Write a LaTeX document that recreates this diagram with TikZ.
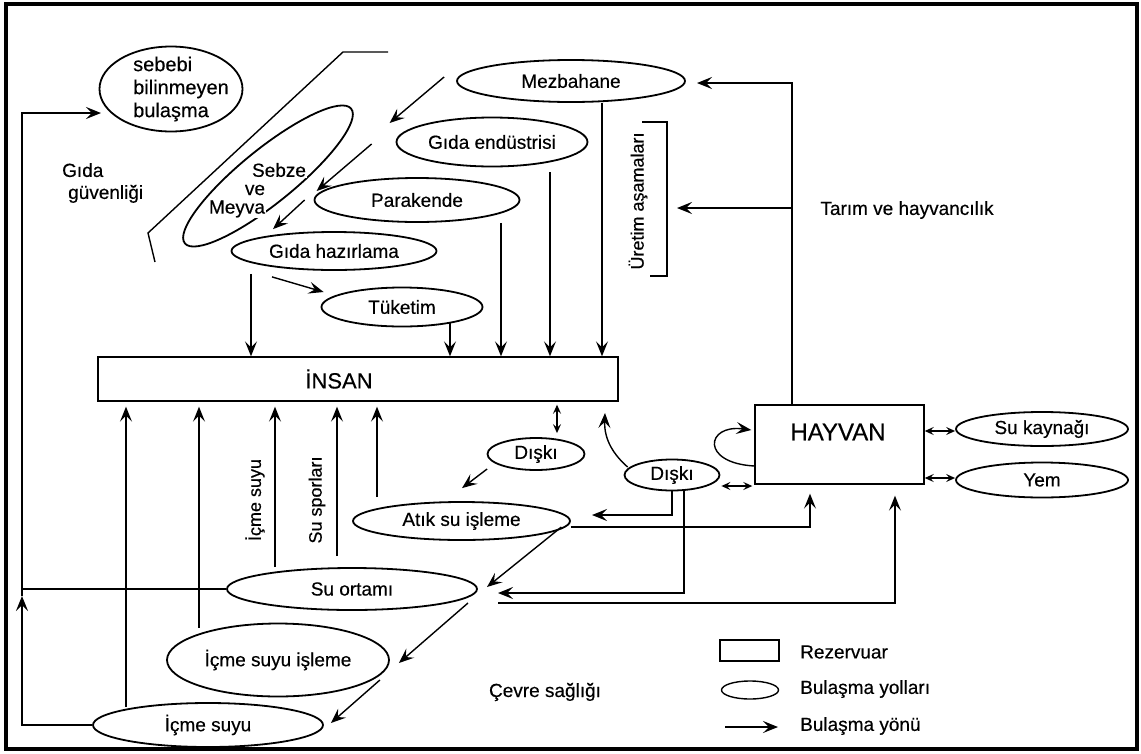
\documentclass[tikz,border=0pt]{standalone}
\usepackage{fontspec}
\setmainfont{Liberation Sans}[FakeBold=0.4]
\usetikzlibrary{shapes.geometric,arrows.meta}
\begin{document}
\begin{tikzpicture}[x=1pt,y=-1pt,
  every node/.style={font=\fontsize{19}{23}\selectfont, inner sep=0pt},
  ell/.style={ellipse, draw, line width=1.8pt, inner sep=0pt},
  con/.style={line width=1.4pt},
  arr/.style={con, arrows={-Stealth[length=15pt,width=12pt,inset=6pt]}},
  dbl/.style={con, arrows={Stealth[length=9pt,width=8pt,inset=3.5pt]-Stealth[length=9pt,width=8pt,inset=3.5pt]}},
  vlbl/.style={rotate=90, font=\fontsize{18}{20}\selectfont},
  brk/.style={fill=white, inner sep=0.6pt, font=\fontsize{19}{21}\selectfont},
]
\useasboundingbox (0,0) rectangle (1141,753);
\draw[line width=4pt] (5.5,4) rectangle (1137,749);

% food safety outline
\draw[con] (155,262) -- (148,233) -- (343,52) -- (388,52);

% nodes
\node[ell, minimum width=143, minimum height=85] (seb) at (171,89) {};
\node[align=left, anchor=west, font=\fontsize{20}{23}\selectfont] (sebt) at (133,89) {sebebi\\bilinmeyen\\bulaşma};
\node[align=left, anchor=west, font=\fontsize{19}{22}\selectfont] (gg) at (62,183) {Gıda\\\hspace*{6pt}güvenliği};

\node[ell, minimum width=214, minimum height=54, rotate=39] (sm) at (268,176) {};
\node[brk] (sbz) at (279,170) {Sebze};
\node[brk] (sve) at (255,190) {ve};
\node[brk] (smy) at (237,209) {Meyva};

\node[ell, minimum width=228, minimum height=42] (mez) at (571,81) {Mezbahane};
\node[ell, minimum width=191, minimum height=49] (ge) at (492,142) {Gıda endüstrisi};
\node[ell, minimum width=205, minimum height=44] (par) at (417,200) {Parakende};
\node[ell, minimum width=205, minimum height=38] (gh) at (334,251) {Gıda hazırlama};
\node[ell, minimum width=161, minimum height=39] (tuk) at (402,307) {Tüketim};

\node[draw, con, minimum width=520, minimum height=44] (insan) at (358,379) {};
\node[font=\fontsize{22}{24}\selectfont] (insant) at (339,379) {İNSAN};
\node[draw, con, minimum width=169, minimum height=79] (hay) at (839.5,444.5) {};
\node[font=\fontsize{24}{26}\selectfont] (hayt) at (838,432) {HAYVAN};

\node[ell, minimum width=172, minimum height=34] (suk) at (1042,429) {Su kaynağı};
\node[ell, minimum width=172, minimum height=35] (yem) at (1042,480) {Yem};
\node[ell, minimum width=97, minimum height=32] (d1) at (536,454) {Dışkı};
\node[ell, minimum width=95, minimum height=31] (d2) at (672,475) {Dışkı};
\node[ell, minimum width=217, minimum height=38] (atik) at (461.5,521) {Atık su işleme};
\node[ell, minimum width=250, minimum height=42] (suort) at (352,589) {Su ortamı};
\node[ell, minimum width=222, minimum height=73] (icis) at (278,660) {İçme suyu işleme};
\node[ell, minimum width=230, minimum height=44] (icme) at (208,725) {İçme suyu};

\node[vlbl] (licme) at (255,500) {İçme suyu};
\node[vlbl] (lspor) at (317,500) {Su sporları};
\node[vlbl] (luret) at (638,201) {Üretim aşamaları};
\node (tarim) at (907,210) {Tarım ve hayvancılık};
\node (cevre) at (545,692) {Çevre sağlığı};

% coordinates
\coordinate (lt) at (22,113);
\coordinate (sebin) at (101,113);
\coordinate (lmid) at (22,596);
\coordinate (conv) at (487,587);
\coordinate (c515) at (592,515);
\coordinate (c593) at (498,593);
\coordinate (c603) at (498,603);
\coordinate (brk) at (677,208);
\coordinate (tsrc) at (792,208);
\coordinate (mezin) at (697,83);
\coordinate (insin) at (605,413);

% down into insan
\draw[arr, shorten <=3pt] (251,0 |- gh.south) -- (251,0 |- insan.north);
\draw[arr, shorten <=-4pt] (450,0 |- tuk.south) -- (450,0 |- insan.north);
\draw[arr] (501,0 |- par.south) -- (501,0 |- insan.north);
\draw[arr, shorten <=5pt] (550,0 |- ge.south) -- (550,0 |- insan.north);
\draw[arr] (602,0 |- mez.south) -- (602,0 |- insan.north);

% up into insan
\draw[arr, shorten <=-5pt, shorten >=5pt] (126,0 |- icme.north) -- (126,0 |- insan.south);
\draw[arr, shorten <=-5pt, shorten >=5pt] (199,0 |- icis.north) -- (199,0 |- insan.south);
\draw[arr, shorten >=5pt] (275,0 |- suort.north) -- (275,0 |- insan.south);
\draw[arr, shorten <=11pt, shorten >=5pt] (337,0 |- suort.north) -- (337,0 |- insan.south);
\draw[arr, shorten <=4pt, shorten >=5pt] (377,0 |- atik.north) -- (377,0 |- insan.south);

% food chain diagonals
\draw[arr] ([shift={(-12,-4)}]mez.west) -- ([shift={(-6,-19)}]ge.west);
\draw[arr] ([shift={(-24,2)}]ge.west) -- ([shift={(3,-9)}]par.west);
\draw[arr] ([shift={(-9,0)}]par.west) -- ([shift={(-61,-2)}]gh.north);
\draw[arr] ([shift={(-62,6)}]gh.south) -- ([shift={(3,-15)}]tuk.west);

% hayvan side
\draw[arr] (792,0 |- hay.north) |- (mezin);
\draw[arr] (tsrc) -- (brk);
\draw[con] (642,122) -- (667,122) -- (667,276) -- (650,276);
\draw[arr] ([shift={(0,21.5)}]hay.west) .. controls (700,463) and (706,424) .. ([shift={(-3,-14.5)}]hay.west);
\draw[dbl, shorten >=2pt] ([shift={(1,11)}]d2.east) -- (hay.west |- 0,486);
\draw[dbl] (hay.east |- 0,431) -- (suk.west |- 0,431);
\draw[dbl] (hay.east |- 0,478) -- (yem.west |- 0,478);

% dışkı links
\draw[dbl, shorten <=3pt, shorten >=4pt] (557,0 |- insan.south) -- (557,0 |- d1.north);
\draw[arr] ([shift={(0.5,15)}]d1.west) -- ([shift={(0.5,-13)}]atik.north);
\draw[arr] ([shift={(4,-8)}]d2.west) .. controls (614,455) and (604,440) .. (insin);
\draw[arr] (d2.south) |- (c515);
\draw[arr] ([shift={(12,-0.5)}]d2.south) |- (c593);
\draw[arr] ([shift={(0,6)}]atik.east) -| ([shift={(-29.5,9)}]hay.south);
\draw[arr] (c603) -| ([shift={(55.5,11)}]hay.south);

% water chain
\draw[arr] ([shift={(-9.5,6)}]atik.east) -- (conv);
\draw[arr] ([shift={(-19,16)}]conv) -- ([shift={(9,3)}]icis.east);
\draw[arr] ([shift={(-10,20)}]icis.east) -- ([shift={(7,-2)}]icme.east);

% left loop
\draw[arr] (icme.west) -| (lmid);
\draw[arr] (lmid) |- (sebin);
\draw[con] (suort.west) -- (suort.west -| lt);

% legend
\node[draw, con, minimum width=59, minimum height=21] (lrect) at (749.5,650.5) {};
\node[anchor=west] (lrtx) at (800,652) {Rezervuar};
\node[ell, line width=1.4pt, minimum width=57, minimum height=18] (lell) at (750,690) {};
\node[anchor=west] (lelx) at (800,689) {Bulaşma yolları};
\coordinate (la1) at (725,727);
\coordinate (la2) at (778,727);
\draw[arr, line width=1.1pt] (la1) -- (la2);
\node[anchor=west] (larx) at (800,726) {Bulaşma yönü};
\end{tikzpicture}
\end{document}
